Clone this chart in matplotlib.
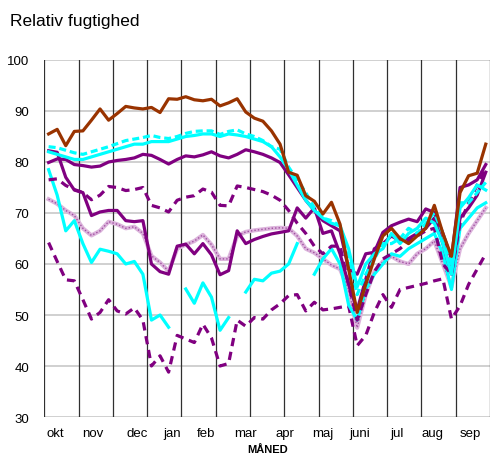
import numpy as np
import matplotlib
matplotlib.use("Agg")
import matplotlib.pyplot as plt

plt.rcParams['font.family'] = ['Liberation Sans', 'DejaVu Sans']

nan = np.nan

# --- data: weekly relative humidity (%) okt -> sep, 52 weeks ---
months = ['okt', 'nov', 'dec', 'jan', 'feb', 'mar', 'apr', 'maj', 'juni', 'jul', 'aug', 'sep']

maks = [85.5, 86.4, 83.2, 86.0, 86.1, 88.2, 90.4, 88.2, 89.5, 90.9, 90.6, 90.4, 90.7,
        89.7, 92.4, 92.3, 92.8, 92.2, 92.0, 92.3, 91.0, 91.6, 92.4, 89.8, 88.6, 88.0,
        86.1, 83.5, 78.0, 77.4, 73.4, 72.3, 69.8, 72.1, 67.8, 59.0, 50.5, 56.0, 61.0,
        65.5, 67.0, 65.0, 64.0, 65.5, 67.0, 71.5, 66.0, 61.5, 74.0, 77.3, 77.8, 83.5]

cyan_dash = [83.0, 82.8, 82.3, 81.8, 81.5, 82.0, 82.5, 83.0, 83.6, 84.2, 84.5, 84.8, 85.2,
             84.8, 84.6, 85.0, 85.6, 86.0, 86.1, 86.1, 85.4, 86.0, 86.3, 85.5, 85.0, 84.2,
             83.0, 82.5, 79.0, 76.5, 74.0, 71.0, 69.0, 68.5, 67.5, 62.0, 54.0, 58.0, 61.0,
             64.0, 64.0, 65.0, 67.0, 66.0, 68.0, 70.0, 66.0, 60.0, 72.0, 72.0, 74.0, 76.0]

cyan_solid = [82.0, 81.5, 81.0, 80.5, 80.5, 81.0, 81.5, 82.0, 82.5, 83.0, 83.5, 83.5, 84.0,
              84.0, 84.0, 84.5, 85.0, 85.2, 85.5, 85.5, 85.0, 85.5, 85.3, 85.0, 84.5, 84.0,
              83.0, 81.0, 78.5, 75.5, 72.5, 70.5, 69.0, 68.0, 67.5, 63.0, 55.5, 60.0, 62.0,
              63.0, 66.0, 64.0, 66.0, 67.0, 69.0, 68.0, 64.0, 58.0, 71.0, 73.0, 75.5, 74.5]

purple_solid = [79.9, 80.6, 80.5, 79.5, 79.3, 79.0, 79.2, 80.0, 80.3, 80.5, 80.8, 81.5, 81.3,
                80.5, 79.6, 80.5, 81.2, 81.0, 81.4, 82.0, 81.2, 80.8, 81.5, 82.4, 82.0, 81.5,
                80.8, 79.9, 77.5, 75.0, 72.5, 70.5, 68.5, 67.5, 66.5, 59.0, 58.0, 62.0, 62.3,
                66.2, 67.5, 68.2, 68.8, 68.3, 70.8, 70.1, 66.0, 61.0, 75.0, 75.5, 76.5, 79.5]

purple_dash = [76.5, 76.7, 75.4, 74.6, 74.0, 72.6, 73.5, 75.2, 75.0, 74.4, 74.6, 75.0, 71.5,
               71.0, 70.2, 72.5, 73.1, 73.4, 74.7, 74.1, 71.5, 71.4, 75.3, 75.0, 74.6, 74.2,
               73.5, 72.5, 70.5, 68.0, 66.0, 63.5, 62.0, 63.5, 63.5, 56.0, 49.0, 54.0, 58.5,
               61.0, 62.0, 63.0, 64.5, 65.5, 66.5, 67.0, 60.0, 58.0, 68.0, 72.0, 75.5, 78.5]

purple_low = [82.2, 81.9, 77.0, 74.5, 74.0, 69.5, 70.2, 70.5, 70.5, 68.5, 68.3, 68.5, 60.0,
              58.5, 58.0, 63.5, 63.9, 62.0, 64.0, 61.8, 57.9, 58.7, 66.5, 64.0, 64.8, 65.4,
              65.9, 66.2, 66.5, 71.0, 69.0, 71.0, 66.0, 66.5, 62.0, 56.0, 51.0, 57.0, 63.0,
              64.0, 65.5, 64.5, 65.0, 66.0, 67.0, 69.0, 64.0, 58.0, 69.0, 71.0, 73.5, 78.0]

dotted = [72.7, 71.8, 70.5, 69.5, 67.0, 65.6, 66.5, 68.3, 67.8, 67.0, 67.3, 66.0, 61.6,
          60.3, 58.6, 63.0, 63.8, 64.5, 65.7, 63.8, 61.0, 61.0, 65.5, 66.3, 66.6, 66.8,
          67.0, 67.1, 67.0, 65.5, 63.0, 62.2, 61.0, 59.8, 59.0, 55.0, 47.5, 54.0, 58.5,
          60.5, 61.5, 60.5, 60.0, 62.0, 63.0, 64.5, 60.0, 55.5, 63.0, 66.0, 68.5, 71.0]

cyan_low = [78.5, 73.5, 66.5, 68.5, 64.0, 60.3, 62.9, 62.5, 62.0, 60.0, 60.5, 58.0, 49.0,
            50.0, 47.6, nan, 55.1, 52.3, 56.3, 53.5, 47.0, 49.5, nan, 54.5, 57.0, 56.7,
            58.2, 58.6, 60.0, 64.0, nan, 58.0, 61.0, 63.0, 60.0, 52.0, 49.0, 55.0, 58.0,
            60.0, 62.0, 61.5, 63.0, 64.0, 65.0, 66.0, 62.0, 55.0, 67.0, 69.0, 71.0, 72.0]

mins = [64.2, 60.5, 56.9, 56.7, 53.0, 49.2, 50.5, 53.0, 50.8, 50.2, 51.4, 49.0, 40.0,
        42.0, 38.8, 46.0, 45.3, 44.6, 48.2, 45.5, 40.0, 40.5, 49.0, 47.8, 49.5, 49.2,
        51.0, 52.2, 53.8, 54.0, 50.8, 52.5, 51.0, 51.2, 51.5, 51.8, 44.0, 46.0, 50.5,
        54.0, 51.5, 55.0, 55.4, 55.8, 56.2, 56.7, 57.1, 49.2, 51.8, 56.0, 59.0, 62.0]

weeks = np.arange(len(maks)) + 0.5

# --- figure ---
fig = plt.figure(figsize=(4.93, 4.60), dpi=100)
ax = fig.add_axes([0.0899, 0.0913, 0.9041, 0.7761])

ax.set_xlim(0, 52)
ax.set_ylim(30, 100)

# grid
for y in range(30, 101, 10):
    ax.axhline(y, color='#c8c8c8', lw=1.2, zorder=0)
for x in range(0, 53, 4):
    ax.axvline(x, color='#303030', lw=0.9, zorder=0)

purple = '#800080'
cyan = '#00ffff'
brown = '#993300'
lw = 2.3

ax.plot(weeks, mins, color=purple, lw=lw, dashes=(2.6, 1.8), zorder=2)
ax.plot(weeks, dotted, color='#dcb4dc', lw=3.0, zorder=2)
ax.plot(weeks, dotted, color='#a050a0', lw=1.0, ls=(0, (1, 1.5)), zorder=2)
ax.plot(weeks, cyan_low, color=cyan, lw=lw, zorder=3)
ax.plot(weeks, purple_low, color=purple, lw=lw, zorder=3)
ax.plot(weeks, purple_dash, color=purple, lw=lw, dashes=(2.6, 1.8), zorder=3)
ax.plot(weeks, purple_solid, color=purple, lw=lw, zorder=4)
ax.plot(weeks, cyan_solid, color=cyan, lw=lw, zorder=4)
ax.plot(weeks, cyan_dash, color=cyan, lw=lw, dashes=(2.2, 1.2), zorder=4)
ax.plot(weeks, maks, color=brown, lw=lw, zorder=5)

for s in ax.spines.values():
    s.set_visible(False)

ax.set_yticks(range(30, 101, 10))
ax.tick_params(axis='y', length=0, labelsize=9.5, pad=11)
month_pos = [1.25, 5.67, 10.8, 14.9, 18.85, 23.5, 28.05, 32.5, 36.8, 41.1, 45.3, 49.65]
ax.set_xticks(month_pos)
ax.set_xticklabels(months)
ax.tick_params(axis='x', length=0, labelsize=9.5, pad=7)
ax.set_xlabel('MÅNED', fontsize=8, fontweight='bold', labelpad=4)

fig.text(0.021, 0.943, 'Relativ fugtighed', fontsize=12.5, ha='left', va='baseline')

fig.savefig('out.png', dpi=100)
